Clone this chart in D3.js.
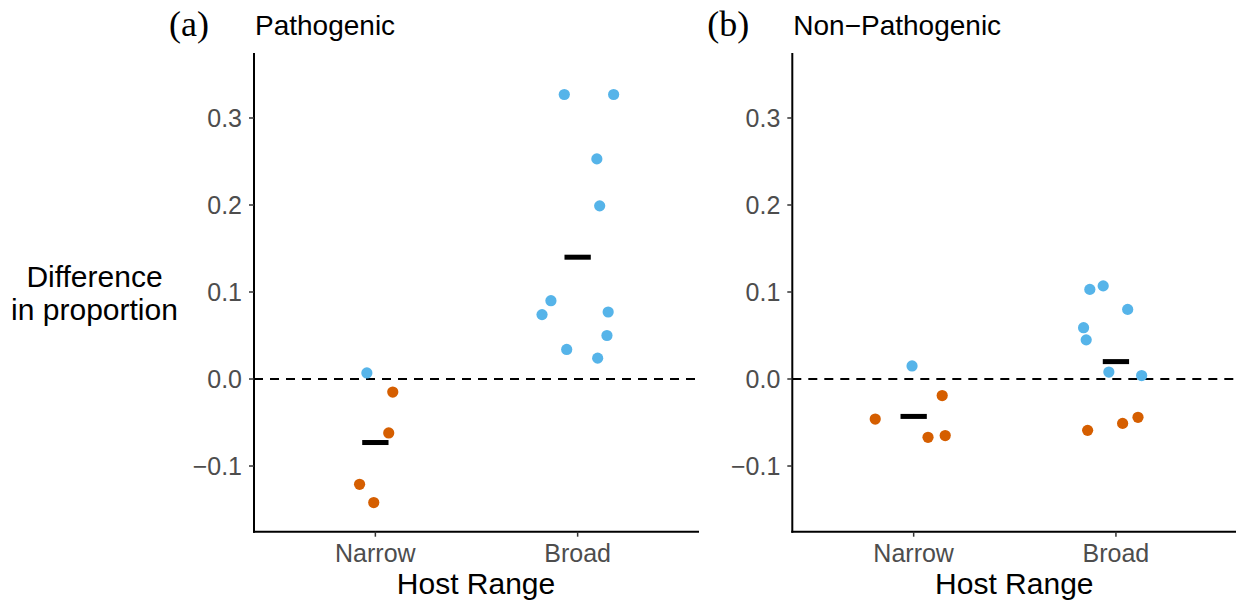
<!DOCTYPE html>
<meta charset="utf-8">
<title>Difference in proportion by host range</title>
<style>
body { margin: 0; background: #fff; }
text { font-family: "Liberation Sans", Arial, sans-serif; }
.tick-label { fill: #4D4D4D; font-size: 25px; }
.axis-title { fill: #000; font-size: 30px; }
.panel-title { fill: #000; font-size: 28px; }
.tag { font-family: "Liberation Serif", "Times New Roman", serif; font-size: 36px; fill: #000; }
</style>
<body>
<script src="https://d3js.org/d3.v7.min.js"></script>
<script>

var panelTitles = ["Pathogenic", "Non\u2212Pathogenic"];
var panelTags = ["(a)", "(b)"];
var categories = ["Narrow", "Broad"];
var yTicks = [-0.1, 0.0, 0.1, 0.2, 0.3];

// panel (a) Pathogenic
var pathNarrowValues = [0.007, -0.015, -0.062, -0.121, -0.142];
var pathNarrowJitter = [-0.042, 0.086, 0.066, -0.078, -0.008];
var pathBroadValues = [0.327, 0.327, 0.253, 0.199, 0.090, 0.074, 0.077, 0.050, 0.034, 0.024];
var pathBroadJitter = [-0.066, 0.178, 0.095, 0.109, -0.132, -0.176, 0.151, 0.145, -0.054, 0.099];
var pathMeans = [-0.073, 0.140];

// panel (b) Non-Pathogenic
var nonNarrowValues = [0.015, -0.046, -0.019, -0.067, -0.065];
var nonNarrowJitter = [-0.008, -0.190, 0.141, 0.071, 0.156];
var nonBroadValues = [0.103, 0.107, 0.080, 0.059, 0.045, 0.008, 0.004, -0.059, -0.051, -0.044];
var nonBroadJitter = [-0.129, -0.063, 0.058, -0.160, -0.147, -0.035, 0.127, -0.140, 0.033, 0.109];
var nonMeans = [-0.043, 0.020];

var width = 1236, height = 603;
var panelLeft = [254, 792.3];
var panelWidth = 445;
var plotTop = 53, plotBottom = 531.7;

var svg = d3.select("body").append("svg")
    .attr("width", width)
    .attr("height", height);

var y = d3.scaleLinear()
    .domain([-0.1755, 0.3747])
    .range([plotBottom, plotTop]);

function pts(vals, jit, cat) {
  return vals.map(function(v, i) { return {cat: cat, value: v, jitter: jit[i]}; });
}

var panels = [
  {points: pts(pathNarrowValues, pathNarrowJitter, "Narrow").concat(pts(pathBroadValues, pathBroadJitter, "Broad")),
   means: pathMeans},
  {points: pts(nonNarrowValues, nonNarrowJitter, "Narrow").concat(pts(nonBroadValues, nonBroadJitter, "Broad")),
   means: nonMeans}
];

panels.forEach(function(p, k) {
  var x0 = panelLeft[k];
  var xEnd = Math.min(x0 + panelWidth, width);
  // discrete x with 0.6 expansion on each side
  var x = d3.scaleLinear().domain([0.4, 2.6]).range([x0, x0 + panelWidth]);
  var xc = function(cat) { return x(categories.indexOf(cat) + 1); };

  var g = svg.append("g");

  // zero reference line
  g.append("line")
      .attr("x1", x0).attr("x2", xEnd)
      .attr("y1", y(0)).attr("y2", y(0))
      .attr("stroke", "#000").attr("stroke-width", 2)
      .attr("stroke-dasharray", "9,7");

  // points
  g.selectAll("circle")
    .data(p.points)
    .enter().append("circle")
      .attr("cx", function(d) { return xc(d.cat) + (x(1 + d.jitter) - x(1)); })
      .attr("cy", function(d) { return y(d.value); })
      .attr("r", 5.6)
      .attr("fill", function(d) { return d.value >= 0 ? "#56B4E9" : "#D55E00"; });

  // mean bars
  g.selectAll("rect.mean")
    .data(p.means)
    .enter().append("rect")
      .attr("class", "mean")
      .attr("x", function(d, i) { return x(i + 1 - 0.065); })
      .attr("width", x(1.065) - x(0.935))
      .attr("y", function(d) { return y(d) - 2.5; })
      .attr("height", 5)
      .attr("fill", "#000");

  // axis lines
  g.append("line")
      .attr("x1", x0).attr("x2", x0).attr("y1", plotTop).attr("y2", plotBottom + 1)
      .attr("stroke", "#000").attr("stroke-width", 2);
  g.append("line")
      .attr("x1", x0 - 1).attr("x2", xEnd).attr("y1", plotBottom).attr("y2", plotBottom)
      .attr("stroke", "#000").attr("stroke-width", 2);

  // y ticks
  yTicks.forEach(function(t) {
    g.append("line")
        .attr("x1", x0 - 5).attr("x2", x0).attr("y1", y(t)).attr("y2", y(t))
        .attr("stroke", "#333").attr("stroke-width", 1.5);
    g.append("text")
        .attr("class", "tick-label")
        .attr("x", x0 - 12).attr("y", y(t) + 9)
        .attr("text-anchor", "end")
        .text(t < 0 ? "\u2212" + Math.abs(t).toFixed(1) : t.toFixed(1));
  });

  // x ticks
  categories.forEach(function(c, i) {
    g.append("line")
        .attr("x1", x(i + 1)).attr("x2", x(i + 1)).attr("y1", plotBottom).attr("y2", plotBottom + 5)
        .attr("stroke", "#333").attr("stroke-width", 1.5);
    g.append("text")
        .attr("class", "tick-label")
        .attr("x", x(i + 1)).attr("y", 561.5)
        .attr("text-anchor", "middle")
        .text(c);
  });

  g.append("text")
      .attr("class", "axis-title")
      .attr("x", x0 + 222).attr("y", 594)
      .attr("text-anchor", "middle")
      .text("Host Range");

  g.append("text")
      .attr("class", "tag")
      .attr("x", x0 - 85).attr("y", 36)
      .text(panelTags[k]);

  g.append("text")
      .attr("class", "panel-title")
      .attr("x", x0 + 1).attr("y", 35)
      .text(panelTitles[k]);
});

svg.append("text")
    .attr("class", "axis-title")
    .attr("x", 94.5).attr("y", 286.5)
    .attr("text-anchor", "middle")
    .text("Difference");
svg.append("text")
    .attr("class", "axis-title")
    .attr("x", 94.5).attr("y", 320)
    .attr("text-anchor", "middle")
    .text("in proportion");

</script>
